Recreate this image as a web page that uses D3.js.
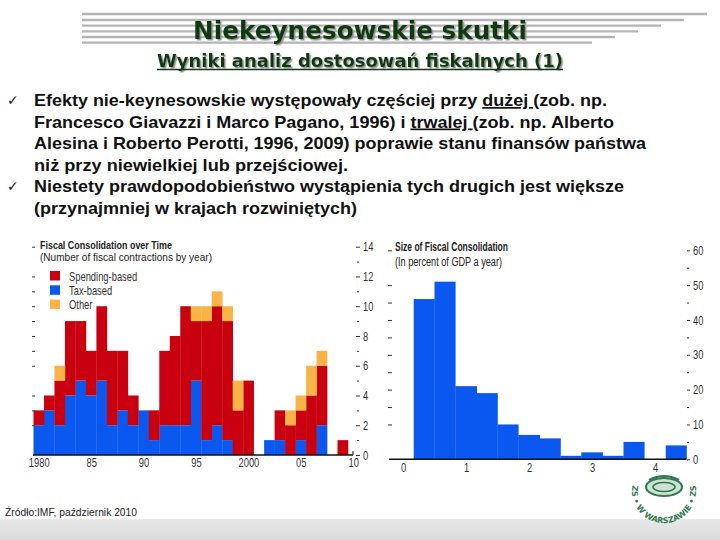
<!DOCTYPE html>
<html>
<head>
<meta charset="utf-8">
<script src="https://cdn.jsdelivr.net/npm/d3@7"></script>
<style>
  body { margin: 0; background: #fff; }
  svg { display: block; }
</style>
</head>
<body>
<svg id="slide" width="720" height="540"></svg>
<script>
// ---- data ----
const years = [1980, 1981, 1982, 1983, 1984, 1985, 1986, 1987, 1988, 1989,
               1990, 1991, 1992, 1993, 1994, 1995, 1996, 1997, 1998, 1999,
               2000, 2001, 2002, 2003, 2004, 2005, 2006, 2007, 2008, 2009];
const taxBased      = [2, 3, 2, 4, 5, 4, 5, 2, 3, 2, 3, 1, 2, 2, 2, 5, 1, 2, 1, 0, 0, 0, 1, 1, 0, 1, 0, 2, 0, 0];
const spendingBased = [1, 1, 3, 5, 4, 3, 5, 5, 4, 2, 0, 2, 5, 6, 8, 4, 8, 8, 8, 3, 5, 0, 0, 2, 2, 2, 4, 4, 0, 1];
const otherBased    = [0, 0, 1, 0, 0, 0, 0, 0, 0, 0, 0, 0, 0, 0, 0, 1, 1, 1, 1, 2, 0, 0, 0, 0, 1, 1, 2, 1, 0, 0];
const seriesNames = ["Spending-based", "Tax-based", "Other"];
const countTicks = [0, 2, 4, 6, 8, 10, 12, 14];
const countMinorTicks = [1, 3, 5, 7, 9, 11, 13];
const yearTicks = [1980, 1985, 1990, 1995, 2000, 2005, 2010];
const yearTickLabels = ["1980", "85", "90", "95", "2000", "05", "10"];

const sizeBinEdges = [0.17, 0.5, 0.83, 1.17, 1.5, 1.83, 2.17, 2.5, 2.83, 3.17, 3.5, 3.83, 4.17, 4.5];
const sizeCounts = [46, 51, 21, 19, 10, 7, 6, 1, 2, 1, 5, 0, 4];
const sizeXTicks = [0, 1, 2, 3, 4];
const sizeYTicks = [0, 10, 20, 30, 40, 50, 60];
const sizeYMinorTicks = [5, 15, 25, 35, 45, 55];

const bulletLines = [
  [{ t: "Efekty nie-keynesowskie występowały częściej przy " }, { t: "dużej ", u: true }, { t: "(zob. np." }],
  [{ t: "Francesco Giavazzi i Marco Pagano, 1996) i " }, { t: "trwalej ", u: true }, { t: "(zob. np. Alberto" }],
  [{ t: "Alesina i Roberto Perotti, 1996, 2009) poprawie stanu finansów państwa" }],
  [{ t: "niż przy niewielkiej lub przejściowej." }],
  [{ t: "Niestety prawdopodobieństwo wystąpienia tych drugich jest większe" }],
  [{ t: "(przynajmniej w krajach rozwiniętych)" }]
];

// ---- styles ----
const red = "#c8000f", blue = "#0a58f0", orange = "#f9b445";
const narrow = '"Liberation Sans", Arial, sans-serif';

const svg = d3.select("#slide");
const defs = svg.append("defs");

// squeeze texts horizontally, like Arial Narrow
function condense(sel, f) {
  sel.each(function () {
    const w = this.getComputedTextLength();
    d3.select(this).attr("textLength", w * f).attr("lengthAdjust", "spacingAndGlyphs");
  });
}

// ---- header ----
defs.append("filter").attr("id", "shadow").attr("x", "-5%").attr("y", "-20%").attr("width", "110%").attr("height", "150%")
  .append("feDropShadow").attr("dx", 1.5).attr("dy", 1.5).attr("stdDeviation", 0.3)
  .attr("flood-color", "#8a8a8a").attr("flood-opacity", 0.9);

const hdr = svg.append("g");
[[14, 707], [20, 684], [25.7, 661], [31.3, 638], [37, 615], [42.7, 592]].forEach(([y, x2]) => {
  hdr.append("line").attr("x1", 82).attr("x2", x2).attr("y1", y).attr("y2", y)
    .attr("stroke", "#b5b5b5").attr("stroke-width", 2.3);
});
hdr.append("text").attr("x", 360).attr("y", 38.5).attr("text-anchor", "middle")
  .attr("font-family", "DejaVu Sans").attr("font-weight", "bold").attr("font-size", 24)
  .attr("textLength", 334).attr("lengthAdjust", "spacingAndGlyphs")
  .attr("fill", "#0e3a10").attr("filter", "url(#shadow)").text("Niekeynesowskie skutki");
hdr.append("text").attr("x", 360).attr("y", 66.5).attr("text-anchor", "middle")
  .attr("font-family", "DejaVu Sans").attr("font-weight", "bold").attr("font-size", 17)
  .attr("textLength", 406).attr("lengthAdjust", "spacingAndGlyphs")
  .attr("fill", "#0e3a10").attr("filter", "url(#shadow)").text("Wyniki analiz dostosowań fiskalnych (1)");
hdr.append("line").attr("x1", 157).attr("x2", 563).attr("y1", 69.5).attr("y2", 69.5)
  .attr("stroke", "#0e3a10").attr("stroke-width", 1.6);

// ---- bullet text ----
const lineWidths = [573, 580, 612, 314, 590, 323];
const bullets = svg.append("g").attr("font-family", "Liberation Sans, Arial, sans-serif")
  .attr("font-weight", "bold").attr("font-size", 17).attr("fill", "#111");
bulletLines.forEach((segs, i) => {
  const t = bullets.append("text").attr("x", 34).attr("y", 106 + i * 21.5)
    .attr("textLength", lineWidths[i]).attr("lengthAdjust", "spacingAndGlyphs");
  segs.forEach(s => {
    const ts = t.append("tspan").text(s.t);
    if (s.u) ts.attr("text-decoration", "underline");
  });
});
[0, 4].forEach(i => {
  svg.append("text").attr("x", 7).attr("y", 105 + i * 21.5)
    .attr("font-family", "DejaVu Sans").attr("font-size", 14).attr("fill", "#222").text("✓");
});

// ---- left chart: fiscal consolidation over time ----
const x = d3.scaleLinear().domain([1980, 2010]).range([33.5, 348]);
const y = d3.scaleLinear().domain([0, 14]).range([455, 246.7]);

const rows = years.map((yr, i) => ({ year: yr, tax: taxBased[i], spending: spendingBased[i], other: otherBased[i] }));
const stack = d3.stack().keys(["tax", "spending", "other"])(rows);
const colors = { tax: blue, spending: red, other: orange };

const left = svg.append("g");
left.selectAll("g.layer").data(stack).join("g").attr("class", "layer")
  .attr("fill", d => colors[d.key])
  .selectAll("rect").data(d => d).join("rect")
  .attr("x", d => x(d.data.year))
  .attr("width", d => x(d.data.year + 1) - x(d.data.year) + 0.3)
  .attr("y", d => y(d[1]))
  .attr("height", d => y(d[0]) - y(d[1]));

left.append("line").attr("x1", 33).attr("x2", 353).attr("y1", 455).attr("y2", 455)
  .attr("stroke", "#111").attr("stroke-width", 1.5);
left.append("line").attr("x1", 353).attr("x2", 353).attr("y1", 451).attr("y2", 455)
  .attr("stroke", "#111");

const styleAxis = (g, size) => {
  g.select(".domain").remove();
  g.selectAll("text").attr("font-family", narrow).attr("font-size", size).attr("fill", "#333")
    .call(condense, 0.72);
  g.selectAll("line").attr("stroke", "#333");
};

left.append("g").attr("transform", "translate(356,0)")
  .call(d3.axisRight(y).tickValues(countTicks).tickSize(4).tickPadding(3))
  .call(g => styleAxis(g, 13));
left.append("g").attr("transform", "translate(357,0)")
  .call(d3.axisRight(y).tickValues(countMinorTicks).tickSize(2).tickFormat(""))
  .call(g => styleAxis(g, 13));
left.append("g").attr("transform", "translate(35,0)")
  .call(d3.axisLeft(y).tickValues([2, 3, 4, 6, 7, 8, 9, 10, 11, 12, 14]).tickSize(3).tickFormat(""))
  .call(g => styleAxis(g, 13));
left.append("g").attr("transform", "translate(0,455)")
  .call(d3.axisBottom(x).tickValues(yearTicks.map(v => v + 0.5)).tickSize(0).tickPadding(3)
    .tickFormat((d, i) => yearTickLabels[i]))
  .call(g => styleAxis(g, 13));

left.append("text").attr("x", 40).attr("y", 248.5).attr("font-family", narrow).attr("font-weight", "bold")
  .attr("font-size", 11).attr("fill", "#222").attr("textLength", 132).attr("lengthAdjust", "spacingAndGlyphs")
  .text("Fiscal Consolidation over Time");
left.append("text").attr("x", 40).attr("y", 261).attr("font-family", narrow)
  .attr("font-size", 11).attr("fill", "#222").attr("textLength", 172).attr("lengthAdjust", "spacingAndGlyphs")
  .text("(Number of fiscal contractions by year)");

const legendColors = [red, blue, orange];
const legend = left.append("g").selectAll("g").data(seriesNames).join("g")
  .attr("transform", (d, i) => `translate(50,${271 + i * 14.3})`);
legend.append("rect").attr("width", 10).attr("height", 9.5).attr("fill", (d, i) => legendColors[i]);
legend.append("text").attr("x", 19).attr("y", 9.5).attr("font-family", narrow).attr("font-size", 13)
  .attr("fill", "#333").text(d => d).call(condense, 0.72);

// ---- right chart: size of fiscal consolidation ----
const xs = d3.scaleLinear().domain([0, 4]).range([403, 655]);
const ys = d3.scaleLinear().domain([0, 60]).range([459.3, 250.3]);
const right = svg.append("g");

right.append("g").attr("fill", blue).selectAll("rect").data(sizeCounts).join("rect")
  .attr("x", (d, i) => xs(sizeBinEdges[i]))
  .attr("width", (d, i) => xs(sizeBinEdges[i + 1]) - xs(sizeBinEdges[i]) + 0.3)
  .attr("y", d => ys(d))
  .attr("height", d => ys(0) - ys(d));

right.append("line").attr("x1", xs(-0.22)).attr("x2", xs(4.5)).attr("y1", 459.3).attr("y2", 459.3)
  .attr("stroke", "#111").attr("stroke-width", 1.5);

right.append("g").attr("transform", "translate(687,0)")
  .call(d3.axisRight(ys).tickValues(sizeYTicks).tickSize(3).tickPadding(3))
  .call(g => styleAxis(g, 13));
right.append("g").attr("transform", "translate(687,0)")
  .call(d3.axisRight(ys).tickValues(sizeYMinorTicks).tickSize(2).tickFormat(""))
  .call(g => styleAxis(g, 13));
right.append("g").attr("transform", "translate(392,0)")
  .call(d3.axisLeft(ys).tickValues([10, 15, 20, 25, 30, 35, 40, 45, 50, 60]).tickSize(4).tickFormat(""))
  .call(g => styleAxis(g, 13));
right.append("g").attr("transform", "translate(0,459.3)")
  .call(d3.axisBottom(xs).tickValues(sizeXTicks).tickSize(0).tickPadding(3).tickFormat(d3.format("d")))
  .call(g => styleAxis(g, 13));

right.append("text").attr("x", 395).attr("y", 251).attr("font-family", narrow).attr("font-weight", "bold")
  .attr("font-size", 12).attr("fill", "#222").attr("textLength", 113).attr("lengthAdjust", "spacingAndGlyphs")
  .text("Size of Fiscal Consolidation");
right.append("text").attr("x", 395).attr("y", 265.5).attr("font-family", narrow)
  .attr("font-size", 12).attr("fill", "#222").attr("textLength", 107).attr("lengthAdjust", "spacingAndGlyphs")
  .text("(In percent of GDP a year)");

// ---- footer ----
const band = defs.append("linearGradient").attr("id", "band")
  .attr("x1", 0).attr("x2", 0).attr("y1", 0).attr("y2", 1);
band.append("stop").attr("offset", 0).attr("stop-color", "#e9e9e9");
band.append("stop").attr("offset", 1).attr("stop-color", "#d9d9d9");
svg.append("rect").attr("x", 0).attr("y", 519).attr("width", 720).attr("height", 21).attr("fill", "url(#band)");

svg.append("text").attr("x", 5).attr("y", 516).attr("font-family", narrow).attr("font-size", 11)
  .attr("fill", "#222").attr("textLength", 132).attr("lengthAdjust", "spacingAndGlyphs")
  .text("Źródło:IMF, październik 2010");

// school seal
const seal = svg.append("g").attr("transform", "translate(664,496)");
const green = "#2f7a4f";
seal.append("ellipse").attr("cx", 0).attr("cy", -9).attr("rx", 18).attr("ry", 9)
  .attr("fill", "#cfe3d4").attr("stroke", green).attr("stroke-width", 2);
seal.append("ellipse").attr("cx", 0).attr("cy", -9).attr("rx", 11).attr("ry", 4.5)
  .attr("fill", "none").attr("stroke", green).attr("stroke-width", 1.5);
seal.append("path").attr("d", "M-15,-16 Q0,-24 15,-16").attr("fill", "none").attr("stroke", green).attr("stroke-width", 2);
seal.append("path").attr("id", "sealArc")
  .attr("d", "M-30,-16 A32,32 0 1,0 30,-16").attr("fill", "none");
seal.append("text").attr("font-family", "DejaVu Sans").attr("font-weight", "bold").attr("font-size", 8)
  .attr("fill", green)
  .append("textPath").attr("href", "#sealArc").attr("startOffset", "50%").attr("text-anchor", "middle")
  .text("ZS • W WARSZAWIE • ZS");
</script>
</body>
</html>
